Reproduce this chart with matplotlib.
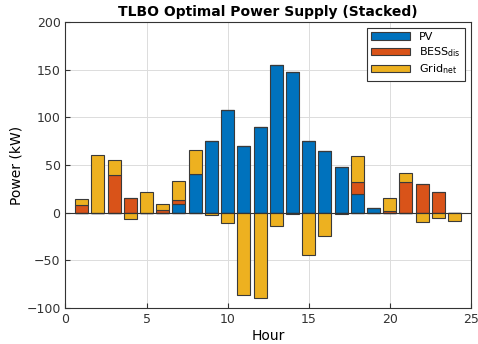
import numpy as np
import matplotlib
matplotlib.use("Agg")
import matplotlib.pyplot as plt

hours = list(range(1, 25))
pv = [0, 0, 0, 0, 0, 0, 9, 40, 75, 108, 70, 90, 155, 148, 75, 65, 48, 20, 5, 0, 0, 0, 0, 0]
bess = [8, 0, 39, 15, 0, 3, 4, 0, 0, 0, 0, 0, 0, 0, 0, 0, 0, 12, 0, 2, 32, 30, 22, 0]
grid = [6, 60, 16, -7, 22, 6.5, 20, 26, -3, -11, -87, -90, -14, -2, -44, -25, -2, 27, 0, 13, 10, -10, -6, -9]

names = ["PV", r"BESS$_{\mathrm{dis}}$", r"Grid$_{\mathrm{net}}$"]
colors = ["#0072BD", "#D95319", "#EDB120"]

fig = plt.figure(figsize=(4.78, 3.44), dpi=100)
ax = fig.add_axes([0.137, 0.105, 0.848, 0.831])

x = np.array(hours)
pos_base = np.zeros(len(x))
neg_base = np.zeros(len(x))
handles = []
for vals, c, n in zip([pv, bess, grid], colors, names):
    v = np.array(vals, dtype=float)
    p = np.where(v > 0, v, 0)
    m = np.where(v < 0, v, 0)
    h = ax.bar(x, p, 0.8, bottom=pos_base, color=c, edgecolor="#3a3a3a", linewidth=0.8, label=n, zorder=3)
    ax.bar(x, m, 0.8, bottom=neg_base, color=c, edgecolor="#3a3a3a", linewidth=0.8, zorder=3)
    pos_base += p
    neg_base += m
    handles.append(h)

ax.axhline(0, color="#333333", linewidth=0.8, zorder=4)
ax.set_xlim(0, 25)
ax.set_ylim(-100, 200)
ax.set_xticks(range(0, 26, 5))
ax.set_yticks(range(-100, 201, 50))
ax.grid(True, color="#dcdcdc", linewidth=0.7, zorder=0)
ax.tick_params(labelsize=9, colors="#333333", direction="in")
for s in ax.spines.values():
    s.set_color("#333333")
ax.set_title("TLBO Optimal Power Supply (Stacked)", fontsize=10, fontweight="bold", pad=4)
ax.set_xlabel("Hour", fontsize=10, labelpad=2)
ax.set_ylabel("Power (kW)", fontsize=10, labelpad=2)
leg = ax.legend(handles=handles, loc="upper right", fontsize=8, fancybox=False,
                edgecolor="#333333", framealpha=1, handlelength=3.5, borderpad=0.4,
                labelspacing=0.3)
leg.get_frame().set_linewidth(0.8)

fig.savefig("out.png", dpi=100)
